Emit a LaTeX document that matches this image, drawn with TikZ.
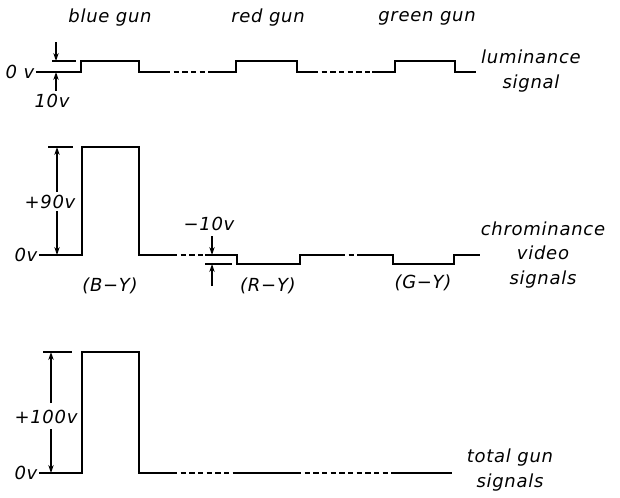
\documentclass[tikz,border=0pt]{standalone}
\usepackage{fontspec}
\setmainfont{DejaVu Sans}[LetterSpace=4]
\usepackage{tikz}
\usetikzlibrary{arrows.meta, positioning, calc}

\begin{document}
\begin{tikzpicture}[x=0.75pt, y=-0.75pt,
    wave/.style={line width=1.7pt, line join=miter},
    gap/.style={line width=0.9pt, dash pattern=on 4pt off 2.5pt},
    tick/.style={line width=0.9pt},
    dim/.style={line width=0.9pt, -{Stealth[length=6pt, width=4pt]}},
    lbl/.style={font=\fontsize{13.5}{18.5}\selectfont\itshape, inner sep=1pt},
  ]
    \useasboundingbox (0,0) rectangle (620,497);

    % Gun labels
    \node[lbl] (blue) at (110,18) {blue gun};
    \node[lbl] (red) at (268,18) {red gun};
    \node[lbl] (green) at (427,18) {green gun};

    % Luminance signal
    \def\lo{72}
    \def\hi{61}
    \draw[wave] (75,\lo) -- (81,\lo) -- (81,\hi) -- (139,\hi) -- (139,\lo) -- (165,\lo);
    \draw[gap] (165,\lo) -- (213,\lo);
    \draw[wave] (213,\lo) -- (236,\lo) -- (236,\hi) -- (297,\hi) -- (297,\lo) -- (313,\lo);
    \draw[gap] (313,\lo) -- (372,\lo);
    \draw[wave] (372,\lo) -- (395,\lo) -- (395,\hi) -- (455,\hi) -- (455,\lo) -- (476,\lo);

    % 10 v step
    \node[lbl] (zeroA) at (20,\lo) {0 v};
    \coordinate (zA) at (80,\lo);
    \draw[tick] (zeroA.east) -- (zA);
    \draw[tick] (52,\hi) -- (76,\hi);
    \coordinate (tA) at (56,42);
    \coordinate (bA) at (56,91);
    \draw[dim] (tA) -- (56,\hi);
    \draw[dim] (bA) -- (56,\lo);
    \node[lbl] (tenA) at (52,101) {10v};
    \node[lbl, align=center] (lum) at (531,71) {luminance\\signal};

    % Chrominance video signals
    \def\base{255}
    \def\top{147}
    \def\neg{264}
    \draw[wave] (75,\base) -- (82,\base) -- (82,\top) -- (139,\top) -- (139,\base) -- (172,\base);
    \draw[gap] (172,\base) -- (205,\base);
    \draw[wave] (205,\base) -- (237,\base) -- (237,\neg) -- (300,\neg) -- (300,\base) -- (340,\base);
    \draw[gap] (340,\base) -- (362,\base);
    \draw[wave] (362,\base) -- (393,\base) -- (393,\neg) -- (454,\neg) -- (454,\base) -- (480,\base);

    % +90 v span
    \node[lbl] (zeroB) at (26,\base) {0v};
    \draw[tick] (zeroB.east) -- (82,\base);
    \draw[tick] (48,\top) -- (73,\top);
    \node[lbl] (ninety) at (50,202) {+90v};
    \draw[dim] (57,192) -- (57,\top);
    \draw[dim] (57,211) -- (57,\base);

    % -10 v step
    \node[lbl] (minten) at (209,224) {−10v};
    \draw[tick] (205,\neg) -- (232,\neg);
    \draw[dim] (212,236) -- (212,\base);
    \draw[dim] (212,286) -- (212,\neg);

    \node[lbl] (by) at (110,286) {(B−Y)};
    \node[lbl] (ry) at (268,286) {(R−Y)};
    \node[lbl] (gy) at (423,283) {(G−Y)};
    \node[lbl, align=center] (chroma) at (543,255) {chrominance\\video\\signals};

    % Total gun signals
    \def\bot{473}
    \def\peak{352}
    \draw[wave] (75,\bot) -- (82,\bot) -- (82,\peak) -- (139,\peak) -- (139,\bot) -- (172,\bot);
    \draw[gap] (172,\bot) -- (235,\bot);
    \draw[wave] (235,\bot) -- (296,\bot);
    \draw[gap] (296,\bot) -- (392,\bot);
    \draw[wave] (392,\bot) -- (452,\bot);

    % +100 v span
    \node[lbl] (zeroC) at (26,\bot) {0v};
    \draw[tick] (zeroC.east) -- (82,\bot);
    \draw[tick] (43,\peak) -- (72,\peak);
    \node[lbl] (hundred) at (46,417) {+100v};
    \draw[dim] (51,403) -- (51,\peak);
    \draw[dim] (51,429) -- (51,\bot);
    \node[lbl, align=center] (total) at (510,470) {total gun\\signals};
\end{tikzpicture}
\end{document}
